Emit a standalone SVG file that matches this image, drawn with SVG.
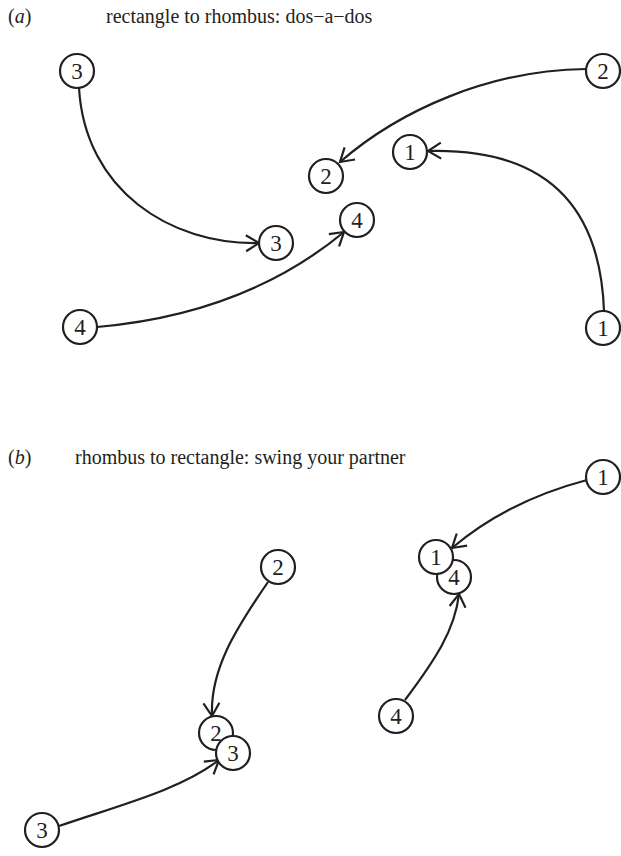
<svg xmlns="http://www.w3.org/2000/svg" width="621" height="856" viewBox="0 0 621 856">
<style>
.t{font-family:"Liberation Serif","Times New Roman",serif;font-size:20px;fill:#231f20}
.n circle{fill:#fff;stroke:#231f20;stroke-width:2.2}
.n text{font-family:"Liberation Serif","Times New Roman",serif;font-size:23px;fill:#231f20;text-anchor:middle}
.c path{fill:none;stroke:#231f20;stroke-width:2.2;marker-end:url(#ah)}
</style>
<defs>
<marker id="ah" viewBox="-16 -10 18 20" markerWidth="18" markerHeight="20" refX="0" refY="0" orient="auto" markerUnits="userSpaceOnUse">
<path d="M-13,-8 L0,0 L-13,8" fill="none" stroke="#231f20" stroke-width="2.2"/>
</marker>
</defs>
<text class="t" x="8" y="23">(<tspan font-style="italic">a</tspan>)</text>
<text class="t" x="106" y="23">rectangle to rhombus: dos−a−dos</text>
<text class="t" x="8" y="464">(<tspan font-style="italic">b</tspan>)</text>
<text class="t" x="75" y="464">rhombus to rectangle: swing your partner</text>
<g class="c" id="connectors">
<path d="M79,88 C 85,190 170,245 259,243"/>
<path d="M586,69 C 490,70 400,110 340,162"/>
<path d="M604,311 C 600,200 540,148 428,151"/>
<path d="M97,327 C 200,318 280,285 344,232"/>
<path d="M587,480 C 530,495 485,520 452,548"/>
<path d="M405,700 C 435,660 455,630 459,594"/>
<path d="M268,582 C 235,630 210,670 212,716"/>
<path d="M59,826 C 120,805 180,790 219,760"/>
</g>
<g class="n" id="a3s"><circle cx="77" cy="71" r="17"/><text x="77" y="79">3</text></g>
<g class="n" id="a2s"><circle cx="603" cy="71" r="17"/><text x="603" y="79">2</text></g>
<g class="n" id="a1e"><circle cx="410" cy="152" r="17"/><text x="410" y="160">1</text></g>
<g class="n" id="a2e"><circle cx="326" cy="176" r="17"/><text x="326" y="184">2</text></g>
<g class="n" id="a4e"><circle cx="357" cy="220" r="17"/><text x="357" y="228">4</text></g>
<g class="n" id="a3e"><circle cx="276" cy="243" r="17"/><text x="276" y="251">3</text></g>
<g class="n" id="a4s"><circle cx="80" cy="327" r="17"/><text x="80" y="335">4</text></g>
<g class="n" id="a1s"><circle cx="603" cy="328" r="17"/><text x="603" y="336">1</text></g>
<g class="n" id="b1s"><circle cx="603" cy="477" r="17"/><text x="603" y="485">1</text></g>
<g class="n" id="b4e"><circle cx="454" cy="577" r="17"/><text x="454" y="585">4</text></g>
<g class="n" id="b1e"><circle cx="436" cy="557" r="17"/><text x="436" y="565">1</text></g>
<g class="n" id="b2s"><circle cx="278" cy="567" r="17"/><text x="278" y="575">2</text></g>
<g class="n" id="b2e"><circle cx="216" cy="733" r="17"/><text x="216" y="741">2</text></g>
<g class="n" id="b3e"><circle cx="233" cy="753" r="17"/><text x="233" y="761">3</text></g>
<g class="n" id="b4s"><circle cx="396" cy="716" r="17"/><text x="396" y="724">4</text></g>
<g class="n" id="b3s"><circle cx="42" cy="830" r="17"/><text x="42" y="838">3</text></g>
</svg>
